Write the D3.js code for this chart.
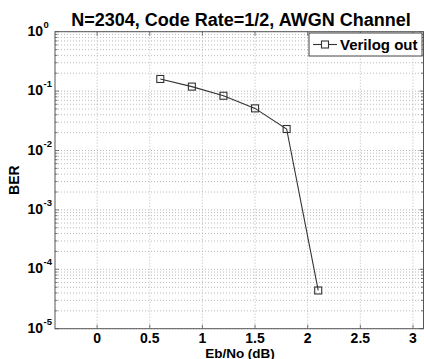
<!DOCTYPE html>
<html><head><meta charset="utf-8">
<script src="https://cdn.jsdelivr.net/npm/d3@7"></script>
<style>body{margin:0;background:#fff;overflow:hidden}svg{display:block}text{font-family:"Liberation Sans",Arial,sans-serif;font-weight:bold;fill:#000}</style>
</head><body><svg id="c" width="424" height="359"></svg>
<script>
const ebno = [0.6, 0.9, 1.2, 1.5, 1.8, 2.1];
const ber = [0.16, 0.119, 0.0835, 0.0512, 0.023, 4.4e-5];
const xTicks = [0, 0.5, 1, 1.5, 2, 2.5, 3];
const xTickLabels = ["0", "0.5", "1", "1.5", "2", "2.5", "3"];
const yExponents = [0, -1, -2, -3, -4, -5];
const title = "N=2304, Code Rate=1/2, AWGN Channel";
const seriesName = "Verilog out";

const svg = d3.select("#c");
const L = 55, R = 423.5, T = 31.7, B = 328.7;
const x = d3.scaleLinear().domain([-0.4, 3.1]).range([L, R]);
const y = d3.scaleLog().domain([1e-5, 1]).range([B, T]);

// grid
const g = svg.append("g").attr("stroke", "#aaa").attr("stroke-width", 0.8).attr("stroke-dasharray", "1,2");
const minor = [];
for (let e = -5; e < 0; e++) for (let m = 2; m <= 9; m++) minor.push(m * Math.pow(10, e));
const majors = yExponents.map(e => Math.pow(10, e));
g.selectAll(".h").data(minor.concat(majors)).enter().append("line")
  .attr("x1", L).attr("x2", R).attr("y1", d => y(d)).attr("y2", d => y(d));
g.selectAll(".v").data(xTicks).enter().append("line")
  .attr("y1", T).attr("y2", B).attr("x1", d => x(d)).attr("x2", d => x(d));

// axes box
svg.append("rect").attr("x", L).attr("y", T).attr("width", R - L).attr("height", B - T)
  .attr("fill", "none").attr("stroke", "#555").attr("stroke-width", 1);

// ticks inside
const tk = svg.append("g").attr("stroke", "#555").attr("stroke-width", 0.8);
minor.concat(majors).forEach(d => {
  const len = minor.includes(d) ? 2.5 : 4;
  tk.append("line").attr("x1", L).attr("x2", L + len).attr("y1", y(d)).attr("y2", y(d));
  tk.append("line").attr("x1", R).attr("x2", R - len).attr("y1", y(d)).attr("y2", y(d));
});
xTicks.forEach(d => {
  tk.append("line").attr("x1", x(d)).attr("x2", x(d)).attr("y1", B).attr("y2", B - 4);
  tk.append("line").attr("x1", x(d)).attr("x2", x(d)).attr("y1", T).attr("y2", T + 4);
});

// x tick labels
svg.selectAll(".xl").data(xTicks).enter().append("text")
  .attr("x", d => x(d)).attr("y", 342.5).attr("text-anchor", "middle")
  .attr("font-size", 14).text((d, i) => xTickLabels[i]);

// y tick labels
yExponents.forEach(e => {
  const yy = y(Math.pow(10, e));
  svg.append("text").attr("x", 43).attr("y", yy + 4).attr("text-anchor", "end")
    .attr("font-size", 14).text("10");
  svg.append("text").attr("x", 43.5).attr("y", yy - 4).attr("text-anchor", "start")
    .attr("font-size", 9.5).text(String(e));
});

// title & labels
svg.append("text").attr("x", 241).attr("y", 26).attr("text-anchor", "middle")
  .attr("font-size", 18).text(title);
svg.append("text").attr("x", 240).attr("y", 357.5).attr("text-anchor", "middle")
  .attr("font-size", 13.5).text("Eb/No (dB)");
svg.append("text").attr("transform", "translate(19," + ((T + B) / 2) + ") rotate(-90)")
  .attr("text-anchor", "middle").attr("font-size", 14).text("BER");

// series
const line = d3.line().x((d, i) => x(ebno[i])).y(d => y(d));
svg.append("path").datum(ber).attr("d", line).attr("fill", "none")
  .attr("stroke", "#333").attr("stroke-width", 1.1);
svg.selectAll(".m").data(ber).enter().append("rect")
  .attr("x", (d, i) => x(ebno[i]) - 3.5).attr("y", d => y(d) - 3.5)
  .attr("width", 7).attr("height", 7).attr("fill", "none")
  .attr("stroke", "#333").attr("stroke-width", 1.1);

// legend
const lg = svg.append("g");
lg.append("rect").attr("x", 309).attr("y", 33).attr("width", 113).attr("height", 23)
  .attr("fill", "#fff").attr("stroke", "#444").attr("stroke-width", 1);
lg.append("line").attr("x1", 313).attr("x2", 337).attr("y1", 44.5).attr("y2", 44.5)
  .attr("stroke", "#333").attr("stroke-width", 1.1);
lg.append("rect").attr("x", 321.5).attr("y", 41).attr("width", 7).attr("height", 7)
  .attr("fill", "#fff").attr("stroke", "#333").attr("stroke-width", 1.1);
lg.append("text").attr("x", 340).attr("y", 50).attr("font-size", 15).text(seriesName);
</script></body></html>
